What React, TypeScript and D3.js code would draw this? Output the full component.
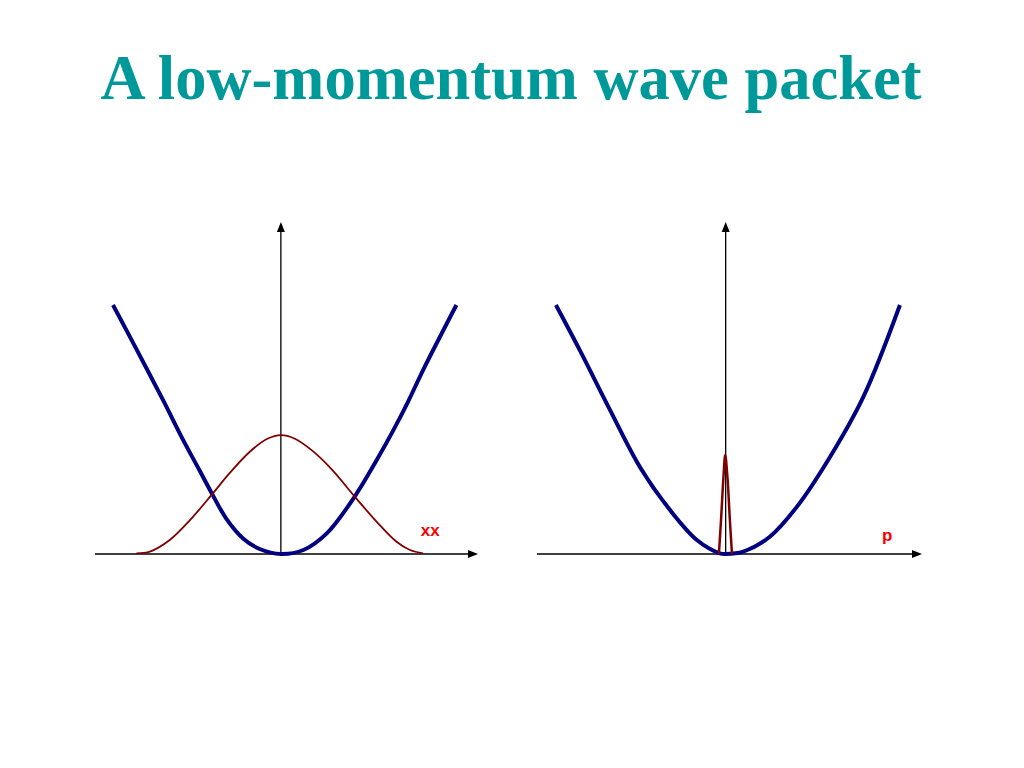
import * as d3 from 'd3';

// Left panel: position space (x)
const potentialX = [-3.73, -3.28, -2.62, -2.17, -1.8, -1.54, -1.21, -0.84, -0.47, 0, 0.5, 1.02, 1.64, 2.13, 2.5, 2.83, 3.16, 3.9];
const potentialY = [7.5, 6.35, 4.64, 3.43, 2.5, 1.84, 1.06, 0.47, 0.15, 0, 0.12, 0.62, 1.73, 2.83, 3.73, 4.6, 5.54, 7.5];

const packetX = [-3.21, -2.91, -2.47, -2.02, -1.54, -1.13, -0.69, -0.3, 0, 0.3, 0.69, 1.13, 1.64, 2.13, 2.57, 2.87, 3.16];
const packetY = [0.02, 0.07, 0.42, 1.02, 1.78, 2.45, 3.08, 3.47, 3.58, 3.48, 3.12, 2.55, 1.73, 0.97, 0.37, 0.12, 0.02];

// Right panel: momentum space (p)
const energyP = [-3.77, -3.24, -2.57, -1.9, -1.24, -0.64, -0.13, 0, 0.39, 0.98, 1.58, 2.32, 3.06, 3.87];
const energyY = [7.5, 6.14, 4.34, 2.61, 1.33, 0.42, 0.02, 0, 0.07, 0.52, 1.42, 2.93, 4.74, 7.5];

const spikeP = [-0.15, -0.1, -0.05, -0.01, 0.04, 0.09, 0.14];
const spikeY = [0, 1.1, 2.3, 2.98, 2.3, 1.1, 0];

const title = 'A low-momentum wave packet';
const axisLabels = ['xx', 'p'];

const toPoints = (xs: number[], ys: number[]) => xs.map((x, i) => [x, ys[i]] as [number, number]);

interface PanelProps {
  domain: [number, number];
  range: [number, number];
  blue: [number, number][];
  red: [number, number][];
  redWidth: number;
  label: string;
  labelAt: [number, number];
}

function Panel({ domain, range, blue, red, redWidth, label, labelAt }: PanelProps) {
  const x = d3.scaleLinear().domain(domain).range(range);
  const y = d3.scaleLinear().domain([0, 10]).range([554, 222]);

  const line = d3
    .line<[number, number]>()
    .x((d) => x(d[0]))
    .y((d) => y(d[1]))
    .curve(d3.curveCatmullRom);

  const x0 = x(0);
  const yBase = y(0);
  const xEnd = x(domain[1]);
  const yTop = y(10);

  return (
    <g>
      {/* axes with arrow heads */}
      <line x1={x(domain[0])} x2={xEnd - 8} y1={yBase} y2={yBase} stroke="#000" strokeWidth={1.3} />
      <path d={`M${xEnd},${yBase} L${xEnd - 10},${yBase - 4} L${xEnd - 10},${yBase + 4} Z`} fill="#000" />
      <line x1={x0} x2={x0} y1={yBase} y2={yTop + 8} stroke="#000" strokeWidth={1.3} />
      <path d={`M${x0},${yTop} L${x0 - 4},${yTop + 10} L${x0 + 4},${yTop + 10} Z`} fill="#000" />

      <path d={line(blue) || ''} fill="none" stroke="#000080" strokeWidth={4} strokeLinejoin="round" />
      <path d={line(red) || ''} fill="none" stroke="#800000" strokeWidth={redWidth} strokeLinejoin="round" />

      <text
        x={x(labelAt[0])}
        y={y(labelAt[1])}
        fill="#ff0000"
        fontFamily="'Liberation Sans', Arial, sans-serif"
        fontWeight="bold"
        fontSize={17}
      >
        {label}
      </text>
    </g>
  );
}

export default function App() {
  return (
    <div style={{ position: 'absolute', left: 0, top: 0 }}>
      <svg width={1024} height={768} style={{ display: 'block', background: '#fff' }}>
        <text
          x={511}
          y={99}
          textAnchor="middle"
          fill="#009999"
          fontFamily="'Liberation Serif', 'Times New Roman', serif"
          fontWeight="bold"
          fontSize={62.5}
        >
          {title}
        </text>

        <Panel
          domain={[-4.13, 4.38]}
          range={[95, 478]}
          blue={toPoints(potentialX, potentialY)}
          red={toPoints(packetX, packetY)}
          redWidth={1.8}
          label={axisLabels[0]}
          labelAt={[3.11, 0.54]}
        />
        <Panel
          domain={[-4.19, 4.36]}
          range={[537, 922]}
          blue={toPoints(energyP, energyY)}
          red={toPoints(spikeP, spikeY)}
          redWidth={2.5}
          label={axisLabels[1]}
          labelAt={[3.47, 0.39]}
        />
      </svg>
    </div>
  );
}
